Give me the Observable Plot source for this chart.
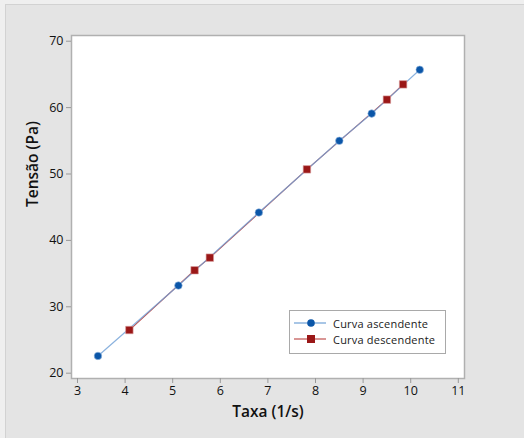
<!DOCTYPE html>
<html>
<head>
<meta charset="utf-8">
<script src="https://cdn.jsdelivr.net/npm/d3@7"></script>
<script src="https://cdn.jsdelivr.net/npm/@observablehq/plot@0.6"></script>
<style>
  html, body { margin: 0; padding: 0; background: #efefef; }
  body { width: 524px; height: 438px; overflow: hidden; position: relative; font-family: "Open Sans", sans-serif; }
  #panel { position: absolute; left: 5px; top: 4px; width: 540px; height: 460px; background: #e4e4e4; border: 1px solid #d2d2d2; }
  #chart { position: absolute; left: 0; top: 0; }
  #legend { position: absolute; left: 289px; top: 310px; width: 157px; height: 44px; background: #fff; border: 1px solid #a9a9a9; box-sizing: border-box; font-family: "Open Sans", sans-serif; font-size: 11px; color: #1a1a1a; }
  .row { position: absolute; left: 3px; height: 16px; display: flex; align-items: center; }
  .row svg { display: block; }
  .row span { margin-left: 6px; letter-spacing: 0.2px; }
</style>
</head>
<body>
<div id="panel"></div>
<div id="chart"></div>
<div id="legend"></div>
<script>
const seriesNames = ["Curva ascendente", "Curva descendente"];
const ascX = [3.43, 5.12, 6.81, 8.50, 9.18, 10.19];
const ascY = [22.6, 33.2, 44.2, 55.0, 59.1, 65.7];
const descX = [4.09, 5.46, 5.78, 7.82, 9.50, 9.84];
const descY = [26.5, 35.5, 37.4, 50.7, 61.2, 63.5];
const xTicks = [3, 4, 5, 6, 7, 8, 9, 10, 11];
const yTicks = [20, 30, 40, 50, 60, 70];

const lineColors = ["#6e9fd6", "#c0504d"];
const markColors = ["#0b56a8", "#9a1717"];

const asc = ascX.map((x, i) => ({x, y: ascY[i]}));
const desc = descX.map((x, i) => ({x, y: descY[i]}));

const plot = Plot.plot({
  width: 524,
  height: 438,
  marginLeft: 71,
  marginRight: 60,
  marginTop: 35,
  marginBottom: 60,
  style: {background: "transparent", fontFamily: "Open Sans, sans-serif", fontSize: "12px", color: "#111"},
  x: {domain: [2.874, 11.13], ticks: xTicks, tickSize: 5, tickPadding: 3, label: null},
  y: {domain: [19.2, 70.86], ticks: yTicks, tickSize: 5, tickPadding: 3, label: null},
  marks: [
    Plot.frame({fill: "white", stroke: "#b0b0b0", strokeWidth: 1.5}),
    Plot.axisX({ticks: xTicks, tickSize: 5, tickPadding: 3, stroke: "#999", fill: "#111", fontSize: 12.5, label: null}),
    Plot.axisY({ticks: yTicks, tickSize: 5, tickPadding: 3, stroke: "#999", fill: "#111", fontSize: 12.5, label: null}),
    Plot.line(desc, {x: "x", y: "y", stroke: lineColors[1], strokeWidth: 1.1}),
    Plot.line(asc, {x: "x", y: "y", stroke: lineColors[0], strokeWidth: 1.2, strokeOpacity: 0.8}),
    Plot.dot(asc, {x: "x", y: "y", r: 3.8, fill: markColors[0], stroke: "#9dbde3", strokeWidth: 0.6}),
    Plot.dot(desc, {x: "x", y: "y", r: 4.2, symbol: "square", fill: markColors[1], stroke: "#d99b9b", strokeWidth: 0.6}),
    Plot.text(["Taxa (1/s)"], {frameAnchor: "bottom", lineAnchor: "middle", dy: 34, text: d => d, fontSize: 15.5, fontWeight: 600, fill: "#111"}),
    Plot.text(["Tensão (Pa)"], {frameAnchor: "left", dx: -38, rotate: -90, text: d => d, fontSize: 15.5, fontWeight: 600, fill: "#111"})
  ]
});
document.getElementById("chart").appendChild(plot);

const legend = document.getElementById("legend");
seriesNames.forEach((name, i) => {
  const row = document.createElement("div");
  row.className = "row";
  row.style.top = (4 + i * 16) + "px";
  const shape = i === 0
    ? `<circle cx="18" cy="6" r="3.8" fill="${markColors[0]}"/>`
    : `<rect x="14" y="2" width="8" height="8" fill="${markColors[1]}"/>`;
  row.innerHTML = `<svg width="34" height="12"><line x1="1" x2="33" y1="6" y2="6" stroke="${lineColors[i]}" stroke-width="1.2"/>${shape}</svg><span>${name}</span>`;
  legend.appendChild(row);
});
</script>
</body>
</html>
